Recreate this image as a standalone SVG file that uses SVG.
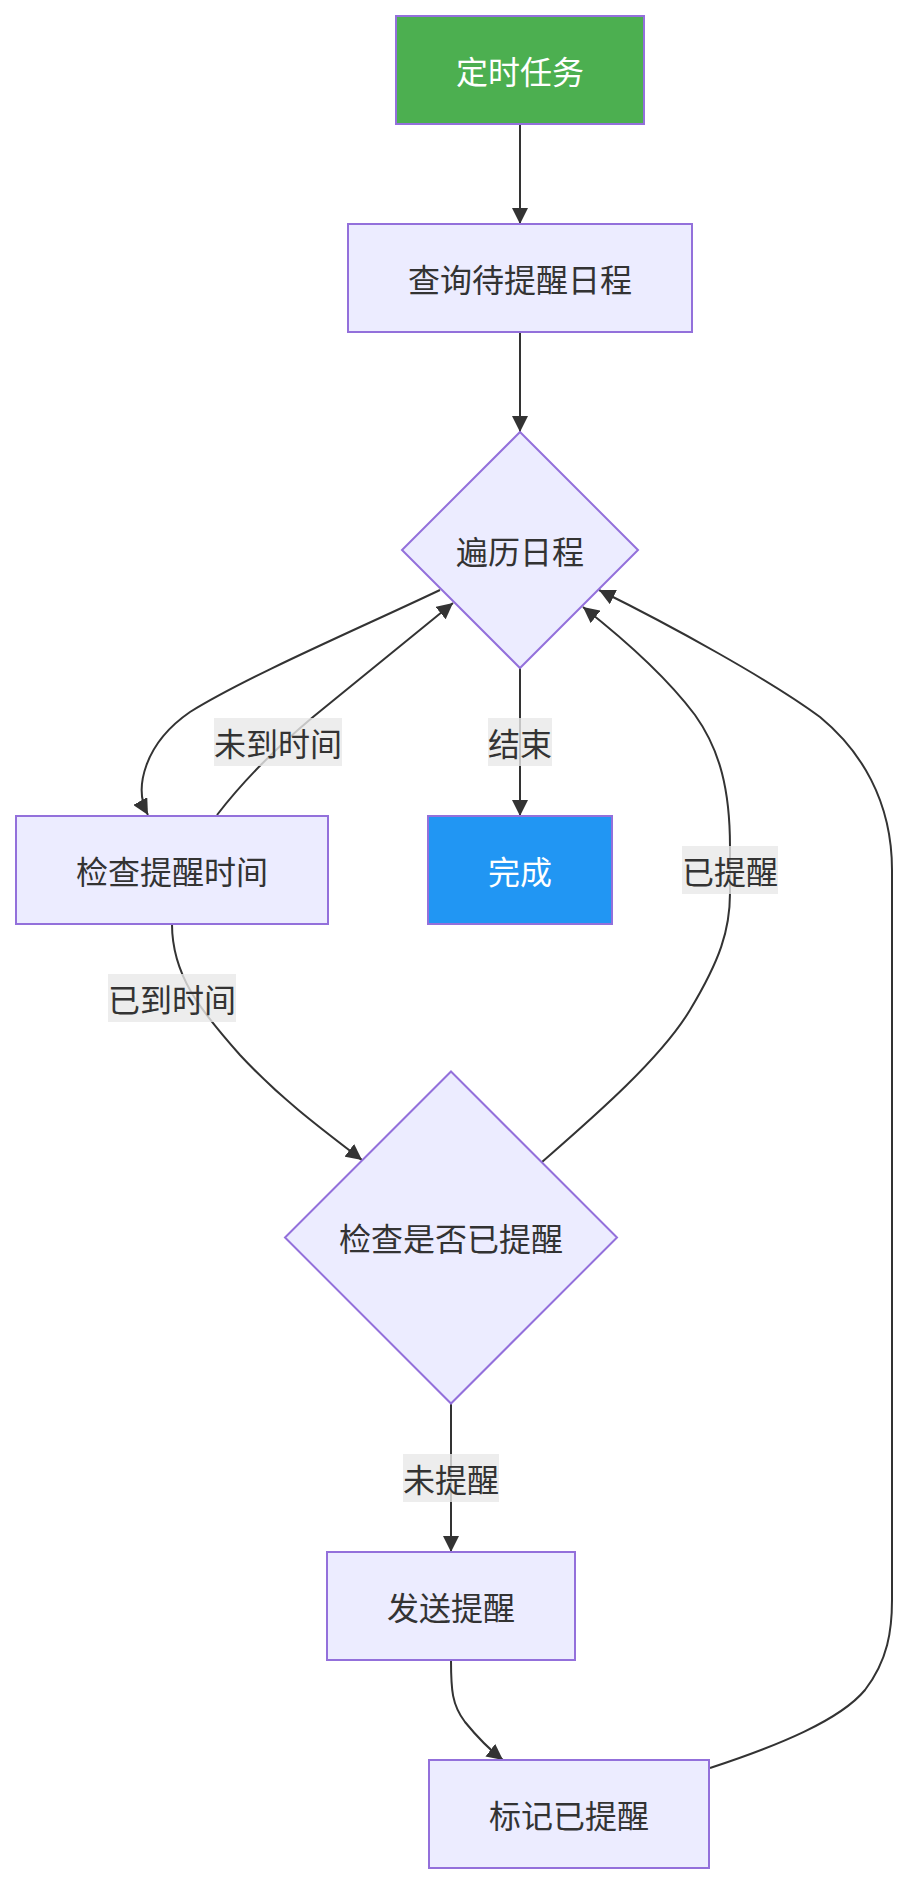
<svg xmlns="http://www.w3.org/2000/svg" width="908" height="1884" viewBox="0 0 908 1884">
<style>
.node rect, .node polygon { fill: #ECECFF; stroke: #9370DB; stroke-width: 2; }
.node text { font-family: "Noto Sans CJK SC", "Noto Sans", sans-serif; font-size: 32px; fill: #333333; text-anchor: middle; dominant-baseline: central; }
.node.start rect { fill: #4CAF50; }
.node.end rect { fill: #2196F3; }
.node.start text, .node.end text { fill: #ffffff; }
.edge { fill: none; stroke: #333333; stroke-width: 2; marker-end: url(#arrow); }
.lbl rect { fill: #e8e8e8; fill-opacity: 0.8; }
.lbl text { font-family: "Noto Sans CJK SC", "Noto Sans", sans-serif; font-size: 32px; fill: #333333; text-anchor: middle; dominant-baseline: central; }
</style>
<defs>
<marker id="arrow" viewBox="0 0 10 10" refX="10" refY="5" markerUnits="userSpaceOnUse" markerWidth="16" markerHeight="16" orient="auto">
<path d="M0,0 L10,5 L0,10 z" fill="#333333"/>
</marker>
</defs>
<rect width="908" height="1884" fill="#ffffff"/>
<g id="connectors">
<path class="edge" d="M520,124 L520,224"/>
<path class="edge" d="M520,332 L520,432"/>
<path class="edge" d="M440,590 C 360,628 250,675 190,712 C 145,743 133,788 148,815"/>
<path class="edge" d="M217,815 C 240,785 270,753 313,717 L 453,603"/>
<path class="edge" d="M520,668 L520,816"/>
<path class="edge" d="M172,924 C 172,975 200,1010 240,1055 C 280,1098 320,1128 362,1160"/>
<path class="edge" d="M542,1162 C 590,1120 660,1060 690,1010 C 720,960 730,930 730,893 L 730,847 C 730,790 720,750 695,715 C 665,675 625,640 583,607"/>
<path class="edge" d="M451,1404 L451,1552"/>
<path class="edge" d="M451,1660 C 451,1690 452,1705 465,1722 C 478,1738 490,1750 503,1760"/>
<path class="edge" d="M710,1768 C 780,1745 840,1720 865,1690 C 888,1660 892,1630 892,1600 L 892,870 C 892,800 860,750 820,717 C 770,680 670,625 599,590"/>
</g>
<g id="edge-labels">
<g class="lbl"><rect x="214" y="718" width="128" height="48"/><text x="278" y="742">未到时间</text></g>
<g class="lbl"><rect x="488" y="718" width="64" height="48"/><text x="520" y="742">结束</text></g>
<g class="lbl"><rect x="108" y="974" width="128" height="48"/><text x="172" y="998">已到时间</text></g>
<g class="lbl"><rect x="682" y="846" width="96" height="48"/><text x="730" y="870">已提醒</text></g>
<g class="lbl"><rect x="403" y="1454" width="96" height="48"/><text x="451" y="1478">未提醒</text></g>
</g>
<g id="n-timer" class="node start"><rect x="396" y="16" width="248" height="108"/><text x="520" y="70">定时任务</text></g>
<g id="n-query" class="node"><rect x="348" y="224" width="344" height="108"/><text x="520" y="278">查询待提醒日程</text></g>
<g id="n-loop" class="node"><polygon points="520,432 638,550 520,668 402,550"/><text x="520" y="550">遍历日程</text></g>
<g id="n-checktime" class="node"><rect x="16" y="816" width="312" height="108"/><text x="172" y="870">检查提醒时间</text></g>
<g id="n-done" class="node end"><rect x="428" y="816" width="184" height="108"/><text x="520" y="870">完成</text></g>
<g id="n-checkdone" class="node"><polygon points="451,1071.5 617,1237.5 451,1403.5 285,1237.5"/><text x="451" y="1237">检查是否已提醒</text></g>
<g id="n-send" class="node"><rect x="327" y="1552" width="248" height="108"/><text x="451" y="1606">发送提醒</text></g>
<g id="n-mark" class="node"><rect x="429" y="1760" width="280" height="108"/><text x="569" y="1814">标记已提醒</text></g>
</svg>
